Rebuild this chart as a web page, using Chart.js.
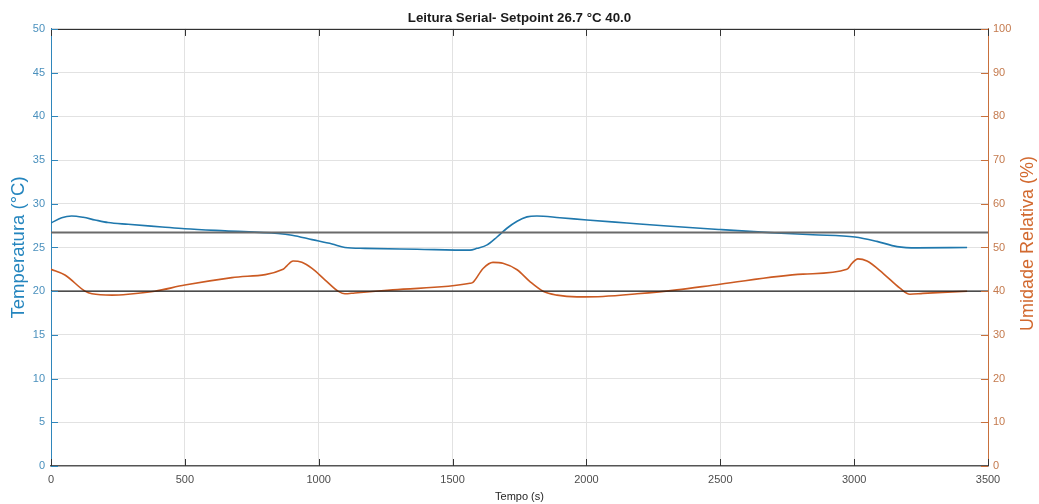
<!DOCTYPE html>
<html>
<head>
<meta charset="utf-8">
<title>Leitura Serial</title>
<script src="https://cdn.jsdelivr.net/npm/chart.js@4"></script>
<style>
  html, body { margin: 0; padding: 0; background: #fff; }
  #wrap { width: 1039px; height: 504px; }
</style>
</head>
<body>
<div id="wrap"><canvas id="grafico" width="1039" height="504"></canvas></div>
<script>
// setpoints
const SETPOINT_TEMP = 26.7;
const SETPOINT_RH = 40.0;

// temperatura (°C) x tempo (s)
const tempTime = [0, 40, 77, 120, 164, 213, 288, 415, 500, 650, 848, 900, 975, 1050, 1098, 1173,
  1367, 1565, 1591, 1629, 1666, 1703, 1741, 1778, 1815, 1901, 2002, 2151, 2301, 2499, 2686,
  2846, 3003, 3085, 3160, 3235, 3422];
const tempValues = [27.8, 28.4, 28.6, 28.45, 28.15, 27.85, 27.65, 27.35, 27.15, 26.9, 26.6, 26.4, 25.9, 25.4, 25.0, 24.9,
  24.8, 24.7, 24.9, 25.3, 26.2, 27.2, 28.0, 28.5, 28.6, 28.4, 28.15, 27.8, 27.45, 27.05, 26.7,
  26.45, 26.2, 25.7, 25.1, 24.95, 25.0];

// umidade relativa (%) x tempo (s)
const rhTime = [0, 52, 127, 153, 228, 288, 388, 500, 676, 867, 881, 904, 937, 975, 1023, 1072, 1098, 1135,
  1277, 1565, 1576, 1614, 1651, 1688, 1741, 1789, 1838, 1890, 1965, 2062, 2189, 2338, 2499,
  2809, 2973, 2992, 3014, 3048, 3108, 3171, 3208, 3257, 3422];
const rhValues = [45.0, 43.7, 40.0, 39.4, 39.1, 39.3, 40.0, 41.4, 43.1, 45.0, 45.8, 46.9, 46.6, 45.2, 42.6, 40.0, 39.4, 39.6,
  40.3, 41.8, 42.0, 45.2, 46.6, 46.4, 44.9, 42.2, 40.0, 39.1, 38.7, 38.8, 39.4, 40.3, 41.6,
  43.9, 45.0, 46.4, 47.4, 46.9, 44.1, 40.7, 39.3, 39.5, 40.0];

// eixos
const timeRange = [0, 3500];
const tempRange = [0, 50];
const rhRange = [0, 100];

const FONT = "'Liberation Sans', Arial, Helvetica, sans-serif";
const AZUL = '#1f78ad';
const AZUL_EIXO = '#2f86bb';
const LARANJA = '#cb5a22';
const LARANJA_EIXO = '#c8703c';

const toPoints = (xs, ys) => xs.map((x, i) => ({ x: x, y: ys[i] }));

// marcas internas dos eixos + borda superior + rótulo do eixo direito
const eixosMatlab = {
  id: 'eixosMatlab',
  afterDraw(chart) {
    const { ctx, chartArea: a, scales } = chart;
    const len = 7;
    ctx.save();
    ctx.lineWidth = 1;

    ctx.strokeStyle = '#262626';
    ctx.beginPath();
    ctx.moveTo(a.left, a.top + 0.5);
    ctx.lineTo(a.right, a.top + 0.5);
    ctx.stroke();

    ctx.strokeStyle = '#333';
    ctx.beginPath();
    scales.x.ticks.forEach(t => {
      const px = Math.round(scales.x.getPixelForValue(t.value)) + 0.5;
      ctx.moveTo(px, a.bottom); ctx.lineTo(px, a.bottom - len);
      ctx.moveTo(px, a.top); ctx.lineTo(px, a.top + len);
    });
    ctx.stroke();

    ctx.strokeStyle = AZUL_EIXO;
    ctx.beginPath();
    scales.y.ticks.forEach(t => {
      const py = Math.round(scales.y.getPixelForValue(t.value)) + 0.5;
      ctx.moveTo(a.left, py); ctx.lineTo(a.left + len, py);
    });
    ctx.stroke();

    ctx.strokeStyle = LARANJA_EIXO;
    ctx.beginPath();
    scales.y2.ticks.forEach(t => {
      const py = Math.round(scales.y2.getPixelForValue(t.value)) + 0.5;
      ctx.moveTo(a.right, py); ctx.lineTo(a.right - len, py);
    });
    ctx.stroke();

    ctx.translate(scales.y2.right - 11, (a.top + a.bottom) / 2 - 4);
    ctx.rotate(-Math.PI / 2);
    ctx.fillStyle = '#d2692f';
    ctx.font = '18px ' + FONT;
    ctx.textAlign = 'center';
    ctx.textBaseline = 'middle';
    ctx.fillText('Umidade Relativa (%)', 0, 0);
    ctx.restore();
  }
};

new Chart(document.getElementById('grafico'), {
  type: 'line',
  data: {
    datasets: [
      {
        data: toPoints(timeRange, [SETPOINT_TEMP, SETPOINT_TEMP]),
        yAxisID: 'y',
        borderColor: '#6a6a6a',
        borderWidth: 2,
        pointRadius: 0
      },
      {
        data: toPoints(timeRange, [SETPOINT_RH, SETPOINT_RH]),
        yAxisID: 'y2',
        borderColor: '#1a1a1a',
        borderWidth: 1.2,
        pointRadius: 0
      },
      {
        label: 'Temperatura',
        data: toPoints(tempTime, tempValues),
        yAxisID: 'y',
        borderColor: AZUL,
        borderWidth: 1.6,
        pointRadius: 0,
        cubicInterpolationMode: 'monotone'
      },
      {
        label: 'Umidade',
        data: toPoints(rhTime, rhValues),
        yAxisID: 'y2',
        borderColor: LARANJA,
        borderWidth: 1.6,
        pointRadius: 0,
        cubicInterpolationMode: 'monotone'
      }
    ]
  },
  options: {
    responsive: false,
    animation: false,
    layout: { padding: 0 },
    plugins: {
      legend: { display: false },
      tooltip: { enabled: false },
      title: {
        display: true,
        text: `Leitura Serial- Setpoint ${SETPOINT_TEMP.toFixed(1)} °C ${SETPOINT_RH.toFixed(1)}`,
        color: '#1a1a1a',
        font: { family: FONT, size: 13.3, weight: 'bold' },
        padding: { top: 10, bottom: 3 }
      }
    },
    scales: {
      x: {
        type: 'linear',
        min: timeRange[0],
        max: timeRange[1],
        grid: { color: '#e2e2e2', drawTicks: false },
        border: { color: '#555', width: 1.5 },
        ticks: {
          stepSize: 500, maxRotation: 0, padding: 7, color: '#4d4d4d',
          font: { family: FONT, size: 11 },
          callback: v => String(v)
        },
        title: {
          display: true,
          text: 'Tempo (s)',
          color: '#262626',
          font: { family: FONT, size: 11 },
          padding: { top: 0, bottom: 0 }
        },
        afterFit: s => { s.height = 38; }
      },
      y: {
        position: 'left',
        min: tempRange[0],
        max: tempRange[1],
        grid: { color: '#e2e2e2', drawTicks: false },
        border: { color: AZUL_EIXO, width: 1 },
        ticks: { stepSize: 5, padding: 6, color: '#4a90bd', font: { family: FONT, size: 11 } },
        title: {
          display: true,
          text: 'Temperatura (°C)',
          color: '#2485be',
          font: { family: FONT, size: 18.5 },
          padding: { top: 8, bottom: 0 }
        },
        afterFit: s => { s.width = 51; }
      },
      y2: {
        position: 'right',
        min: rhRange[0],
        max: rhRange[1],
        grid: { drawOnChartArea: false, drawTicks: false },
        border: { color: LARANJA_EIXO, width: 1 },
        ticks: { stepSize: 10, padding: 5, color: '#c47a4e', font: { family: FONT, size: 11 } },
        afterFit: s => { s.width = 51; }
      }
    }
  },
  plugins: [eixosMatlab]
});
</script>
</body>
</html>
